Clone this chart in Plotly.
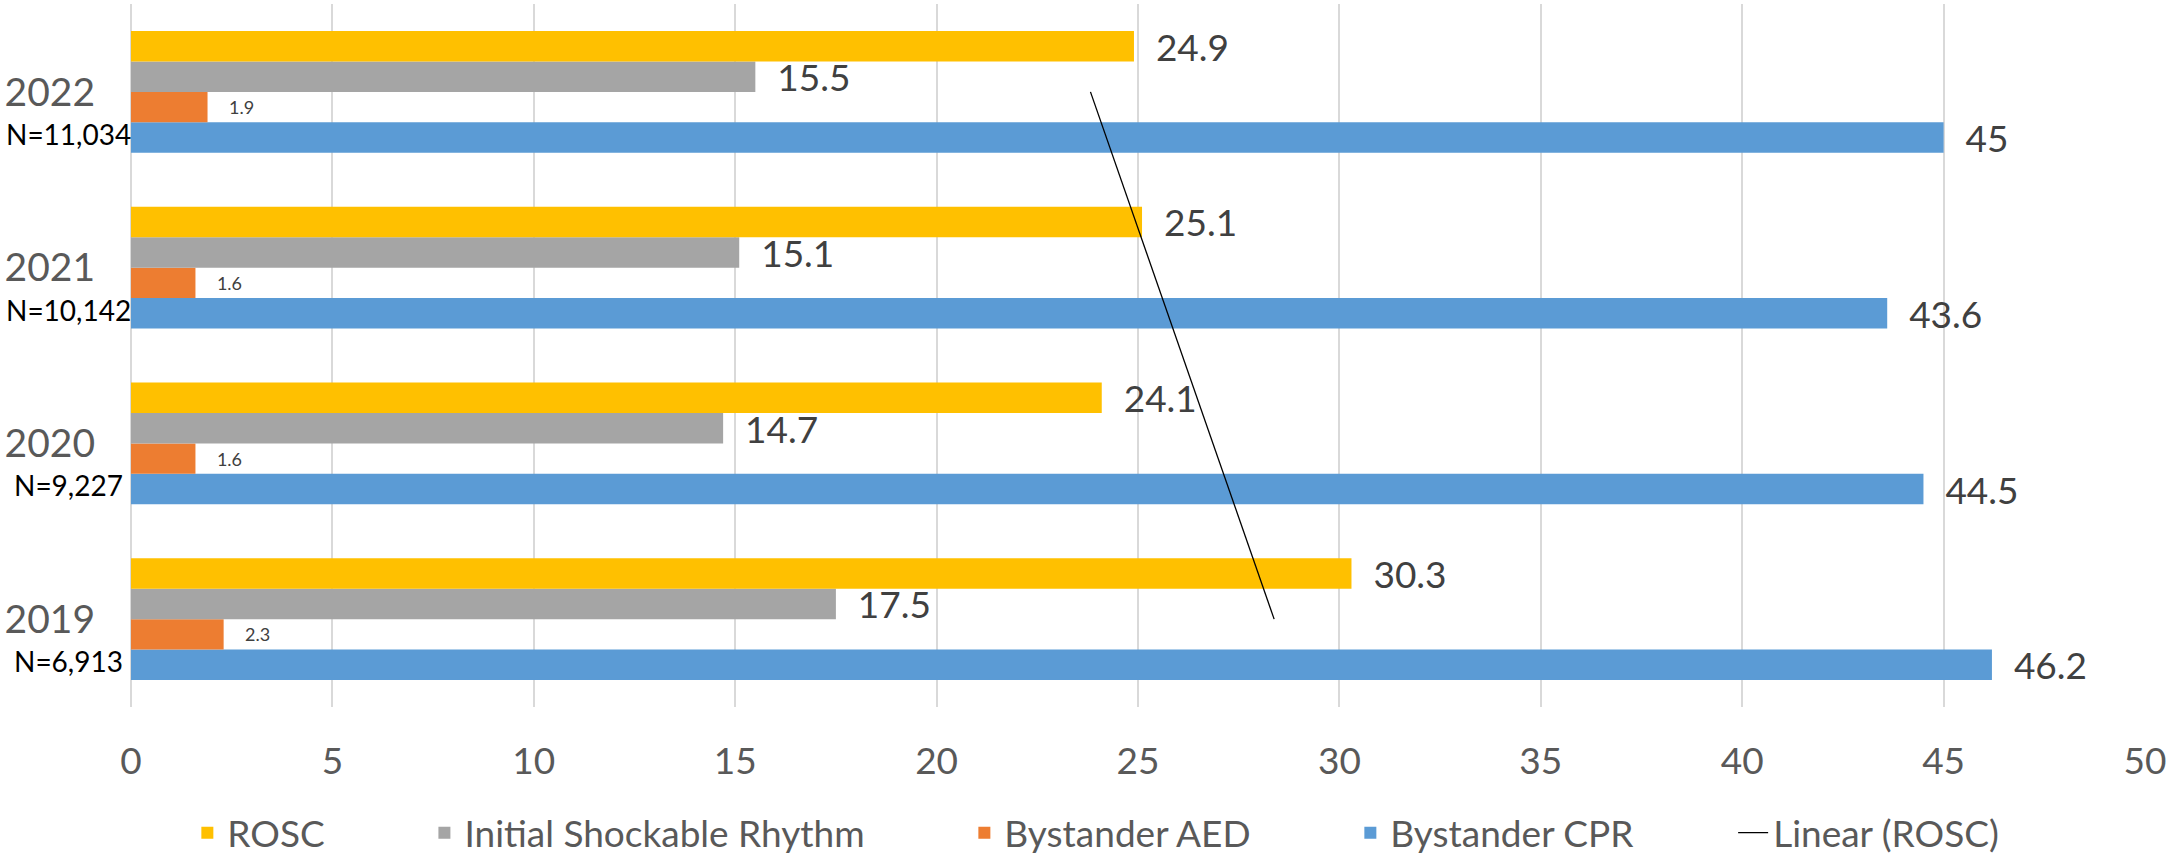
import numpy as np
import plotly.graph_objects as go

years = ["2019", "2020", "2021", "2022"]
n_labels = ["N=6,913", "N=9,227", "N=10,142", "N=11,034"]
rosc = [30.3, 24.1, 25.1, 24.9]
shockable = [17.5, 14.7, 15.1, 15.5]
aed = [2.3, 1.6, 1.6, 1.9]
cpr = [46.2, 44.5, 43.6, 45]

FONT = "Lato"
NB = "\u00a0"
LEG_PAD = NB * 10

fig = go.Figure()

series = [
    ("Bystander CPR", cpr, "#5B9BD5", 37, 4, 2),
    ("Bystander AED", aed, "#ED7D31", 18, 3, 4),
    ("Initial Shockable Rhythm", shockable, "#A5A5A5", 37, 2, 2),
    ("ROSC", rosc, "#FFC000", 37, 1, 2),
]
for name, vals, color, fs, rank, pad in series:
    fig.add_trace(go.Bar(
        name=name + LEG_PAD, y=years, x=vals, orientation="h",
        marker=dict(color=color, line=dict(width=0)),
        text=[NB * pad + f"{v:g}" for v in vals],
        textposition="outside", constraintext="none", cliponaxis=False,
        textfont=dict(family=FONT, size=fs, color="#404040"),
        legendrank=rank,
    ))

# linear trendline of ROSC over category index
idx = np.arange(1, len(years) + 1)
slope, intercept = np.polyfit(idx, rosc, 1)
trend = slope * idx + intercept
fig.add_trace(go.Scatter(
    name="Linear (ROSC)", y=years, x=trend, mode="lines",
    line=dict(color="black", width=1.3), legendrank=5,
))

for i, nl in enumerate(n_labels):
    fig.add_annotation(
        x=0, xref="paper", y=i, yref="y", text=nl, showarrow=False,
        xanchor="center", yanchor="middle", xshift=-63, yshift=-42,
        font=dict(family=FONT, size=28, color="black"),
    )

fig.update_layout(
    width=2170, height=858,
    margin=dict(l=131, r=25, t=4, b=151),
    barmode="group", bargap=0.307, bargroupgap=0,
    plot_bgcolor="white", paper_bgcolor="white",
    font=dict(family=FONT, color="#595959"),
    showlegend=True,
    legend=dict(
        orientation="h", xref="container", yref="container",
        x=0.505, xanchor="center", y=0.029, yanchor="middle",
        font=dict(family=FONT, size=37, color="#595959"),
        itemwidth=30,
    ),
    xaxis=dict(
        range=[0, 50], dtick=5, tick0=0, showgrid=True,
        gridcolor="#D9D9D9", gridwidth=2,
        zeroline=True, zerolinecolor="#D9D9D9", zerolinewidth=2,
        ticks="", ticklabelstandoff=29, automargin=False,
        tickfont=dict(family=FONT, size=37, color="#595959"),
        fixedrange=True,
    ),
    yaxis=dict(
        type="category", categoryorder="array", categoryarray=years,
        range=[-0.5, 3.5], automargin=False,
        showgrid=False, zeroline=False, ticks="", ticklabelstandoff=35,
        tickfont=dict(family=FONT, size=39, color="#595959"),
        fixedrange=True,
    ),
)

fig.write_html(
    "out.html",
    config={"displayModeBar": False},
    post_script="document.body.style.margin='0px';document.body.style.overflow='hidden';",
)
